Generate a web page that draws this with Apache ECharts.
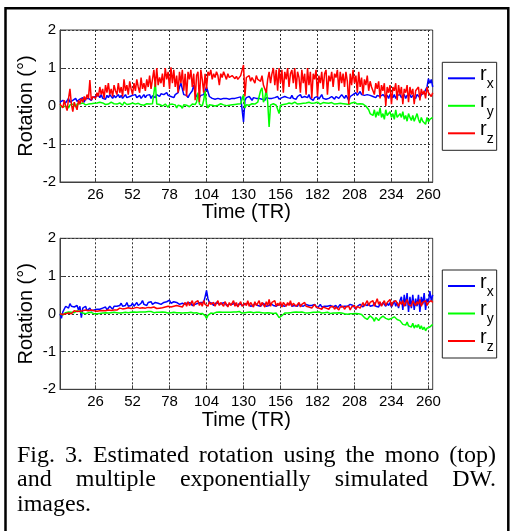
<!DOCTYPE html>
<html><head><meta charset="utf-8">
<script src="https://cdn.jsdelivr.net/npm/echarts@6/dist/echarts.min.js"></script>
<style>html,body{margin:0;padding:0;background:#fff}#c{width:511px;height:531px}</style>
</head><body><div id="c"></div>
<script>
// ---- tick labels ----
const xTicks = [26, 52, 78, 104, 130, 156, 182, 208, 234, 260];
const seriesNames = ['rx', 'ry', 'rz'];
const xAxisName = 'Time (TR)';
const yAxisName = 'Rotation (°)';
const captionLines = [
  'Fig. 3. Estimated rotation using the mono (top)',
  'and multiple exponentially simulated DW.',
  'images.'
];

// ---- top plot (mono) ----
const topRx = [
0.1,0.05,0.15,0.1,0.08,0.12,0.2,0.1,0.05,0.15,0.1,0.2,0.12,0.08,0.18,0.15,0.22,0.1,0.2,0.15,
0.2,0.25,0.15,0.22,0.18,0.25,0.2,0.28,0.22,0.3,0.2,0.25,0.18,0.28,0.22,0.3,0.25,0.2,0.28,0.22,
0.25,0.3,0.22,0.28,0.2,0.25,0.3,0.22,0.27,0.25,0.2,0.28,0.24,0.3,0.22,0.26,0.28,0.2,0.25,0.3,
0.22,0.28,0.25,0.3,0.2,0.27,0.25,0.22,0.3,0.28,0.25,0.32,0.27,0.3,0.25,0.35,0.28,0.3,0.25,0.28,
0.22,0.3,0.25,0.35,0.5,0.6,0.45,0.3,0.25,0.28,0.22,0.3,0.25,0.4,0.55,0.35,0.25,0.3,0.22,0.28,
0.25,0.3,0.35,0.5,0.45,0.25,0.22,0.2,0.25,0.18,0.22,0.2,0.25,0.18,0.22,0.2,0.24,0.2,0.22,0.18,
0.22,0.2,0.25,0.2,0.18,0.22,0.2,0.24,0.2,-0.42,0.15,0.22,0.18,0.25,0.2,0.15,0.22,0.18,0.2,0.15,
0.2,0.22,0.18,0.2,0.15,0.22,0.18,0.2,0.25,0.2,0.18,0.22,0.2,0.25,0.18,0.2,0.22,0.18,0.25,0.2,
0.22,0.25,0.2,0.28,0.2,0.22,0.18,0.25,0.2,0.3,0.22,0.18,0.25,0.2,0.22,0.3,0.2,0.25,0.15,0.22,
0.2,0.25,0.18,0.22,0.3,0.2,0.25,0.18,0.22,0.2,0.15,0.25,0.22,0.18,0.25,0.28,0.2,0.22,0.3,0.25,
0.2,0.28,0.22,0.15,0.25,0.2,0.3,0.25,0.35,0.28,0.3,0.38,0.3,0.35,0.28,0.32,0.3,0.35,0.28,0.3,
0.25,0.3,0.22,0.28,0.32,0.25,0.2,0.3,0.25,0.22,0.28,0.2,0.3,0.25,0.22,0.3,0.2,0.28,0.25,0.3,
0.22,0.25,0.3,0.2,0.28,0.25,0.3,0.22,0.28,0.25,0.2,0.3,0.25,0.22,0.3,0.28,0.35,0.3,0.5,0.72,
0.6,0.7,0.5];
const topRy = [
0.0,0.05,-0.03,0.02,0.0,0.05,-0.05,0.03,0.0,0.05,0.02,-0.02,0.05,0.03,0.06,0.04,0.08,0.05,0.03,0.06,
0.05,0.08,0.06,0.1,0.07,0.05,0.08,0.06,0.1,0.05,0.08,0.06,0.04,0.07,0.05,0.08,0.1,0.12,0.06,0.04,
0.05,0.03,0.08,0.05,0.02,0.1,0.06,0.04,0.07,0.05,0.03,0.08,0.06,0.05,0.04,0.07,0.05,0.03,0.06,0.02,
0.04,0.06,0.03,0.05,0.02,0.06,0.04,0.62,0.05,0.02,0.04,0.06,0.0,0.03,0.05,0.02,-0.03,0.04,0.02,0.05,
0.0,0.03,-0.05,0.02,0.04,0.0,-0.06,0.03,0.05,0.02,0.04,-0.02,0.03,0.05,0.0,0.04,0.1,0.35,0.05,0.02,
0.0,0.15,0.4,0.05,-0.05,0.03,0.06,0.02,0.04,0.0,0.05,0.02,0.04,0.06,0.02,0.03,0.05,0.01,0.04,0.02,
0.05,0.03,0.0,0.04,0.02,0.05,0.03,0.06,0.1,0.3,-0.05,0.03,0.05,0.02,0.04,0.06,0.03,0.05,0.08,0.1,
0.15,0.4,0.48,0.1,0.2,0.45,0.1,-0.55,0.03,0.05,0.06,0.04,0.02,0.05,-0.2,0.02,0.06,0.04,0.08,0.05,
0.06,0.08,0.1,0.06,0.08,0.1,0.07,0.05,0.08,0.06,0.09,0.07,0.1,0.08,0.06,0.1,0.08,0.07,0.1,0.08,
0.06,0.1,0.08,0.05,0.07,0.09,0.06,0.08,0.05,0.07,0.06,0.09,0.07,0.05,0.08,0.06,0.04,0.07,0.05,0.06,
0.08,0.05,0.07,0.04,0.06,0.08,0.05,0.1,0.06,0.05,0.08,0.06,0.04,0.05,0.02,0.0,-0.05,-0.1,-0.2,-0.15,
-0.25,-0.1,-0.3,-0.15,-0.25,-0.05,-0.3,-0.2,-0.35,-0.1,-0.25,-0.3,-0.15,-0.3,-0.2,-0.35,-0.1,-0.3,-0.25,-0.2,
-0.3,-0.15,-0.35,-0.25,-0.4,-0.2,-0.3,-0.38,-0.25,-0.4,-0.3,-0.2,-0.35,-0.45,-0.3,-0.4,-0.35,-0.48,-0.3,-0.42,
-0.35,-0.4,-0.3];
const topRz = [
0.05,0.1,-0.05,0.15,0.0,-0.12,0.2,0.45,0.05,-0.15,0.1,0.0,-0.1,0.15,0.05,0.2,0.1,0.25,0.15,0.3,
0.2,0.68,0.15,0.25,0.3,0.2,0.35,0.25,0.5,0.3,0.45,0.2,0.55,0.35,0.6,0.3,0.45,0.25,0.55,0.4,
0.3,0.6,0.35,0.5,0.25,0.7,0.4,0.55,0.3,0.65,0.45,0.3,0.6,0.4,0.7,0.5,0.35,0.75,0.45,0.6,
0.4,0.7,0.5,0.8,0.45,0.7,0.95,0.5,1.0,0.55,0.75,0.6,0.85,0.5,1.0,0.7,0.9,0.45,1.02,0.6,
0.95,0.5,0.8,0.35,0.9,0.6,0.95,0.4,0.85,0.25,0.9,0.7,0.95,0.5,0.85,0.15,0.8,0.9,0.1,0.95,
0.7,0.35,0.85,0.45,0.9,0.8,0.95,0.7,0.85,0.75,0.9,0.8,0.55,0.85,0.75,0.9,0.8,0.7,0.85,0.75,
0.7,0.8,0.75,0.72,0.78,0.7,0.75,0.8,0.85,1.08,0.25,0.75,0.7,0.8,0.65,0.75,0.7,0.6,0.8,0.7,
0.75,0.65,0.8,0.55,0.5,0.35,0.7,0.9,0.6,0.85,1.0,0.55,0.95,0.4,1.0,0.6,0.95,0.35,0.9,0.7,
1.0,0.5,0.85,0.95,0.6,1.0,0.45,0.9,0.75,0.35,0.95,0.6,0.85,0.3,1.0,0.55,0.9,0.2,0.85,0.7,
0.95,0.25,0.8,0.6,0.9,0.45,0.85,0.95,0.3,0.8,0.65,0.9,0.5,0.85,0.75,0.95,0.4,0.9,0.6,0.85,
0.5,0.9,0.65,0.05,0.85,0.55,0.95,0.6,0.8,0.35,0.9,0.5,0.75,0.3,0.7,0.55,0.8,0.4,0.65,0.5,
0.55,0.3,0.6,0.45,0.65,0.2,0.55,0.4,0.6,0.0,0.5,0.35,0.55,0.05,0.5,0.4,0.6,0.15,0.55,0.3,
0.5,0.05,0.45,0.35,0.55,0.1,0.5,0.3,0.45,0.05,0.4,0.35,0.5,0.15,0.45,0.3,0.4,0.2,0.5,0.35,
0.4,0.25,0.35];

// ---- bottom plot (multiple) ----
const botRx = [
0.0,-0.12,0.05,0.1,0.2,0.25,0.15,0.27,0.2,0.25,0.18,0.15,0.22,0.1,0.2,-0.1,0.15,0.12,0.2,0.08,
0.1,0.15,0.08,0.12,0.1,0.15,0.12,0.08,0.12,0.1,0.15,0.12,0.18,0.1,0.15,0.2,0.18,0.12,0.2,0.25,
0.2,0.18,0.22,0.28,0.2,0.25,0.22,0.3,0.2,0.25,0.22,0.28,0.2,0.25,0.3,0.22,0.25,0.28,0.35,0.25,
0.28,0.22,0.3,0.26,0.32,0.25,0.28,0.3,0.35,0.28,0.3,0.25,0.28,0.3,0.25,0.32,0.3,0.36,0.28,0.3,
0.32,0.27,0.3,0.28,0.25,0.3,0.28,0.3,0.25,0.28,0.3,0.25,0.28,0.22,0.27,0.25,0.3,0.28,0.25,0.3,
0.28,0.3,0.45,0.62,0.4,0.3,0.25,0.28,0.22,0.25,0.3,0.27,0.25,0.3,0.28,0.25,0.3,0.22,0.27,0.25,
0.3,0.25,0.22,0.28,0.25,0.2,0.28,0.25,0.22,0.2,0.25,0.22,0.28,0.25,0.2,0.25,0.22,0.28,0.25,0.22,
0.25,0.2,0.22,0.28,0.25,0.2,0.25,0.22,0.28,0.25,0.22,0.25,0.2,0.22,0.25,0.28,0.22,0.25,0.2,0.22,
0.25,0.22,0.28,0.2,0.25,0.22,0.25,0.2,0.28,0.22,0.25,0.2,0.22,0.25,0.2,0.22,0.18,0.22,0.2,0.25,
0.2,0.15,0.2,0.25,0.18,0.22,0.2,0.15,0.2,0.18,0.22,0.25,0.18,0.2,0.22,0.15,0.2,0.25,0.18,0.22,
0.2,0.15,0.2,0.18,0.25,0.2,0.22,0.18,0.12,0.2,0.22,0.25,0.2,0.18,0.25,0.2,0.22,0.28,0.2,0.25,
0.22,0.3,0.2,0.25,0.18,0.28,0.22,0.3,0.25,0.2,0.28,0.22,0.3,0.18,0.25,0.35,0.2,0.3,0.15,0.35,
0.45,0.1,0.5,0.2,0.55,0.05,0.45,0.15,0.5,0.1,0.4,0.2,0.5,0.05,0.45,0.25,0.55,0.1,0.4,0.3,
0.6,0.35,0.5];
const botRy = [
0.0,0.02,-0.03,0.0,0.03,0.01,0.05,0.02,0.04,0.0,0.03,0.05,0.08,0.1,0.06,0.04,0.02,0.03,0.0,0.02,
0.03,0.01,0.04,0.02,0.0,0.02,0.0,-0.02,0.01,0.0,0.02,0.01,0.03,0.0,0.02,0.01,0.03,0.02,0.04,0.02,
0.03,0.05,0.02,0.04,0.03,0.05,0.04,0.06,0.03,0.05,0.04,0.06,0.05,0.07,0.04,0.06,0.05,0.07,0.05,0.06,
0.05,0.07,0.06,0.04,0.06,0.05,0.03,0.05,0.04,0.02,0.04,0.03,0.05,0.02,0.04,0.03,0.02,0.04,0.03,0.05,
0.04,0.02,0.03,0.05,0.03,0.04,0.02,0.04,0.03,0.05,0.03,0.02,0.04,0.03,0.02,0.04,0.03,0.02,0.0,0.02,
0.01,0.0,-0.05,-0.12,-0.04,0.0,0.02,0.03,0.01,0.03,0.04,0.02,0.05,0.03,0.04,0.05,0.04,0.06,0.04,0.05,
0.04,0.06,0.05,0.03,0.05,0.04,0.06,0.03,0.02,0.01,0.03,0.02,0.04,0.03,0.05,0.04,0.03,0.05,0.04,0.03,
0.04,0.05,0.03,0.04,0.02,0.04,0.03,0.05,0.02,0.03,0.01,0.03,0.02,0.0,-0.1,-0.15,-0.05,0.0,0.02,0.03,
0.02,0.04,0.03,0.02,0.04,0.03,0.05,0.03,0.04,0.03,0.05,0.04,0.03,0.04,0.02,0.04,0.03,0.05,0.04,0.03,
0.04,0.03,0.05,0.03,0.02,0.04,0.03,0.02,0.04,0.03,0.01,0.03,0.02,0.0,0.02,0.01,0.03,0.0,0.02,0.01,
0.0,0.02,-0.01,0.01,0.0,-0.02,0.0,-0.01,0.01,0.02,0.0,-0.03,-0.02,-0.06,-0.1,-0.08,-0.15,-0.1,-0.05,-0.08,
-0.12,-0.2,-0.1,-0.15,-0.18,-0.12,-0.1,-0.06,-0.08,-0.12,-0.1,-0.15,-0.2,-0.12,-0.1,-0.08,-0.12,-0.15,-0.2,-0.18,
-0.22,-0.28,-0.25,-0.3,-0.22,-0.32,-0.28,-0.35,-0.25,-0.38,-0.3,-0.36,-0.28,-0.4,-0.32,-0.42,-0.35,-0.45,-0.38,-0.42,
-0.35,-0.3,-0.28];
const botRz = [
0.0,0.05,-0.02,0.03,0.0,0.05,0.02,0.06,0.0,0.04,0.08,0.03,0.06,0.02,0.07,0.05,0.08,0.04,0.1,0.06,
0.08,0.05,0.1,0.06,0.08,0.12,0.07,0.1,0.08,0.12,0.09,0.11,0.08,0.12,0.1,0.14,0.09,0.12,0.1,0.13,
0.1,0.12,0.15,0.11,0.13,0.1,0.14,0.12,0.16,0.11,0.14,0.12,0.15,0.13,0.17,0.12,0.15,0.13,0.16,0.14,
0.15,0.12,0.17,0.14,0.16,0.13,0.18,0.15,0.14,0.17,0.15,0.19,0.16,0.14,0.18,0.16,0.2,0.15,0.18,0.17,
0.2,0.17,0.22,0.18,0.2,0.25,0.18,0.22,0.3,0.2,0.32,0.22,0.28,0.35,0.2,0.3,0.25,0.35,0.22,0.3,
0.2,0.35,0.25,0.3,0.2,0.32,0.25,0.22,0.3,0.2,0.28,0.35,0.22,0.3,0.25,0.2,0.32,0.25,0.18,0.3,
0.22,0.28,0.35,0.2,0.3,0.18,0.25,0.32,0.2,0.15,0.28,0.22,0.35,0.2,0.3,0.25,0.18,0.32,0.22,0.28,
0.35,0.2,0.3,0.25,0.18,0.32,0.22,0.38,0.2,0.3,0.25,0.35,0.2,0.28,0.22,0.32,0.18,0.3,0.25,0.2,
0.3,0.22,0.35,0.2,0.28,0.32,0.2,0.25,0.3,0.18,0.25,0.22,0.3,0.2,0.25,0.18,0.22,0.15,0.2,0.25,
0.18,0.22,0.15,0.2,0.12,0.18,0.22,0.15,0.2,0.12,0.18,0.15,0.2,0.12,0.18,0.15,0.1,0.18,0.15,0.2,
0.12,0.18,0.15,0.2,0.1,0.18,0.15,0.22,0.12,0.2,0.25,0.15,0.22,0.3,0.2,0.28,0.35,0.22,0.3,0.25,
0.35,0.2,0.3,0.4,0.25,0.32,0.2,0.28,0.35,0.22,0.3,0.25,0.38,0.2,0.3,0.25,0.35,0.28,0.2,0.32,
0.25,0.35,0.2,0.3,0.38,0.25,0.3,0.2,0.35,0.28,0.22,0.32,0.25,0.38,0.2,0.3,0.25,0.35,0.22,0.3,
0.25,0.35,0.3];

// ---- build chart ----
const SANS = 'Liberation Sans';
const SERIF = 'Liberation Serif';
const colors = { rx: '#0000ff', ry: '#00ff00', rz: '#ff0000' };
const axisCol = '#404040';

const grids = [
  { left: 60, top: 30, width: 372.7, height: 152 },
  { left: 60, top: 238.3, width: 372.7, height: 151 }
];
const legendTops = [62.3, 270];
const plotData = [
  { rx: topRx, ry: topRy, rz: topRz },
  { rx: botRx, ry: botRy, rz: botRz }
];

function xAxisFor(i) {
  return {
    type: 'value', gridIndex: i, min: 1, max: 263,
    axisLine: { show: true, onZero: false, lineStyle: { color: axisCol, width: 1 } },
    axisTick: { show: true, inside: true, length: 4, customValues: xTicks, lineStyle: { color: axisCol } },
    axisLabel: { customValues: xTicks, color: '#000', fontSize: 15, fontFamily: SANS, margin: 5 },
    splitLine: { show: true, lineStyle: { type: [2, 2], color: '#333', width: 1 } },
    name: xAxisName, nameLocation: 'middle', nameGap: 18,
    nameTextStyle: { fontSize: 20, color: '#000', fontFamily: SANS }
  };
}
function yAxisFor(i) {
  return {
    type: 'value', gridIndex: i, min: -2, max: 2, interval: 1,
    axisLine: { show: true, onZero: false, lineStyle: { color: axisCol, width: 1 } },
    axisTick: { show: true, inside: true, length: 4, lineStyle: { color: axisCol } },
    axisLabel: { color: '#000', fontSize: 15, fontFamily: SANS, margin: 4 },
    splitLine: { show: true, lineStyle: { type: [2, 2], color: '#333', width: 1 } },
    name: yAxisName, nameLocation: 'middle', nameGap: 24, nameMoveOverlap: false,
    nameTextStyle: { fontSize: 20, color: '#000', fontFamily: SANS }
  };
}

const series = [];
plotData.forEach((pd, gi) => {
  seriesNames.forEach(n => {
    series.push({
      type: 'line', name: n, xAxisIndex: gi, yAxisIndex: gi,
      data: pd[n].map((v, k) => [k + 1, v]),
      showSymbol: false, symbol: 'none',
      lineStyle: { color: colors[n], width: 1.5 },
      itemStyle: { color: colors[n] },
      animation: false, silent: true
    });
  });
});

function legendFor(i) {
  return {
    orient: 'vertical', left: 442.3, top: legendTops[i],
    padding: [2, 3, 3, 5.7], itemWidth: 27, itemHeight: 2, itemGap: -0.5,
    icon: 'rect', data: seriesNames, selectedMode: false,
    backgroundColor: '#fff', borderColor: '#222', borderWidth: 1, borderRadius: 0,
    formatter: n => '{r|r}{s|' + n.slice(1) + '}',
    textStyle: {
      color: '#000', fontFamily: SANS,
      rich: {
        r: { fontSize: 20, lineHeight: 20, padding: [0, 0, 8, 0], color: '#000', fontFamily: SANS },
        s: { fontSize: 14, lineHeight: 14, padding: [12, 0, 0, 0], color: '#000', fontFamily: SANS }
      }
    }
  };
}

// caption: justified lines built from measured word widths
const capFontSize = 24;
const capFont = capFontSize + 'px "' + SERIF + '"';
const capLeft = 17, capRight = 496;
const capBaselines = [463.5, 488, 512.5];
const measureCtx = document.createElement('canvas').getContext('2d');
measureCtx.font = capFont;
const graphics = [];
captionLines.forEach((line, li) => {
  const words = line.split(' ');
  const widths = words.map(w => measureCtx.measureText(w).width);
  const total = widths.reduce((a, b) => a + b, 0);
  const justify = li < captionLines.length - 1;
  const gap = justify ? (capRight - capLeft - total) / (words.length - 1) : measureCtx.measureText(' ').width;
  let x = capLeft;
  words.forEach((w, k) => {
    graphics.push({
      type: 'text', x: x, y: capBaselines[li] - 0.33 * capFontSize,
      style: { text: w, font: capFont, fill: '#000', verticalAlign: 'middle', align: 'left' },
      silent: true
    });
    x += widths[k] + gap;
  });
});
// outer frame
graphics.push({
  type: 'rect', shape: { x: 5.5, y: 8.3, width: 502.8, height: 560 },
  style: { fill: 'none', stroke: '#000', lineWidth: 2.5 }, silent: true, z: 100
});

const chart = echarts.init(document.getElementById('c'), null, { renderer: 'canvas' });
chart.setOption({
  backgroundColor: '#fff',
  animation: false,
  grid: grids.map(g => Object.assign({ show: true, borderColor: axisCol, borderWidth: 1, backgroundColor: 'transparent' }, g)),
  xAxis: [xAxisFor(0), xAxisFor(1)],
  yAxis: [yAxisFor(0), yAxisFor(1)],
  legend: [legendFor(0), legendFor(1)],
  series: series,
  graphic: graphics
});
</script>
</body></html>
